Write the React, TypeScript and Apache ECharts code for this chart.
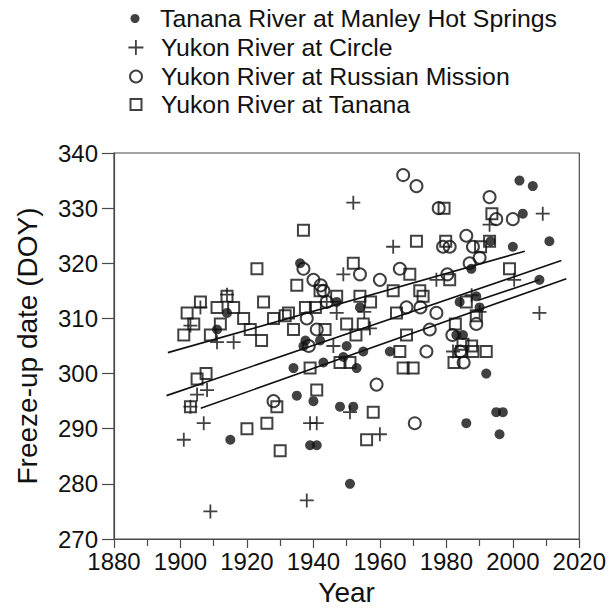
import React, { useEffect, useRef } from "react";
import * as echarts from "echarts";

// Tanana River at Manley Hot Springs: [year, freeze-up DOY]
const manley: number[][] = [
  [1911, 308], [1914, 311], [1915, 288], [1934, 301], [1935, 296], [1936, 320], [1937, 305],
  [1937.6, 306], [1939, 287], [1940, 295], [1941, 287], [1942, 306], [1943, 302], [1947, 313],
  [1948, 294], [1949, 303], [1950, 305], [1951, 280], [1952, 294], [1953, 301], [1954, 312],
  [1955, 304], [1963, 304], [1983, 307], [1985, 307], [1984, 313], [1986, 291], [1987.5, 319],
  [1989, 314], [1990, 312], [1992, 300], [1993.3, 324], [1995, 293], [1996, 289], [1997, 293],
  [2000, 323], [2002, 335], [2003, 329], [2006, 334], [2008, 317], [2011, 324],
];

// Yukon River at Circle
const circle: number[][] = [
  [1901, 288], [1903, 294], [1903, 308.7], [1905, 296.2], [1906, 312], [1907, 291], [1908, 297],
  [1909, 275], [1911, 305.7], [1914, 314.3], [1916, 305.7], [1938, 277], [1939, 291], [1941, 291],
  [1944, 313], [1946, 305], [1947, 311], [1949, 318], [1951, 293], [1952, 331], [1955.3, 311.2],
  [1957, 308.2], [1960, 289], [1964, 323], [1977, 317], [1982, 304], [1987.6, 314.2], [1990, 311.2],
  [1993, 327], [2000.4, 317], [2008, 311], [2009, 329],
];

// Yukon River at Russian Mission
const russianMission: number[][] = [
  [1928, 295], [1937, 319], [1938, 310], [1938.6, 305], [1940, 317], [1941, 308], [1942.2, 316],
  [1943, 315], [1944, 313], [1954, 318], [1959, 298], [1960, 317], [1966, 319], [1967, 336],
  [1968, 312], [1970.5, 291], [1971, 334], [1972.2, 312], [1974, 304], [1975, 308], [1977, 311],
  [1977.7, 330], [1979, 323], [1980.3, 318], [1981, 323], [1981.8, 307], [1984.2, 304],
  [1985.2, 302], [1986, 325], [1987, 320], [1988, 323], [1989, 309], [1990, 321], [1993, 332],
  [1995, 328], [2000, 328],
];

// Yukon River at Tanana
const tanana: number[][] = [
  [1901, 307], [1902, 311], [1903, 294], [1904, 309], [1906, 313], [1905, 299], [1907.7, 300],
  [1909, 307], [1911, 312], [1912, 309], [1914, 314], [1916, 312], [1919, 310], [1920, 290],
  [1921, 308], [1923, 319], [1924.4, 306], [1925, 313], [1926, 291], [1928, 310], [1929, 294],
  [1930, 286], [1931.5, 310.5], [1932.5, 311], [1934, 308], [1935, 316], [1937, 326],
  [1937.6, 312], [1939, 301], [1940.6, 312], [1941, 297], [1942, 315], [1943.5, 308], [1947, 314],
  [1948, 302], [1950, 309], [1951, 302], [1952, 320], [1952.8, 307], [1954, 314], [1955, 309],
  [1956, 288], [1957.2, 313], [1958, 293], [1964, 315], [1965, 311], [1966, 304], [1967, 301],
  [1968, 307], [1969, 318], [1970, 301], [1971, 324], [1972, 315], [1973, 314], [1979.3, 330],
  [1979.8, 324], [1981, 317], [1982.3, 302], [1982.7, 309], [1984.5, 304], [1985, 305.3],
  [1986, 313], [1987.6, 305], [1988, 304], [1989, 310.5], [1990.3, 323], [1992, 304], [1993, 324],
  [1993.7, 329], [1999, 319],
];

// Trend lines (start/end year and DOY)
const trendStartYear = [1896.2, 1895.8, 1906.1, 1989.6];
const trendEndYear = [2003.6, 2014.6, 2016.1, 2008];
const trendStartDOY = [303.8, 296, 293.7, 313.3];
const trendEndDOY = [322.2, 320.5, 317.2, 317];

const seriesNames = [
  "Tanana River at Manley Hot Springs",
  "Yukon River at Circle",
  "Yukon River at Russian Mission",
  "Yukon River at Tanana",
];

const INK = "#111111";
const AXIS = "#4a4a4a";
const FONT = "Liberation Sans, Arial, Helvetica, sans-serif";
const PLUS = "path://M0,7L14,7M7,0L7,14";

export default function App() {
  const ref = useRef<HTMLDivElement>(null);

  useEffect(() => {
    if (!ref.current) return;
    const chart = echarts.init(ref.current, undefined, { renderer: "svg" });

    const markerStyles = [
      { symbol: "circle", size: 10, itemStyle: { color: INK, borderWidth: 0 } },
      { symbol: PLUS, size: 14, itemStyle: { color: "rgba(0,0,0,0)", borderColor: INK, borderWidth: 1.8 } },
      { symbol: "circle", size: 12, itemStyle: { color: "rgba(0,0,0,0)", borderColor: INK, borderWidth: 2 } },
      { symbol: "rect", size: 11, itemStyle: { color: "rgba(0,0,0,0)", borderColor: INK, borderWidth: 2 } },
    ];
    const datasets = [manley, circle, russianMission, tanana];

    const scatterSeries = datasets.map((d, i) => ({
      type: "scatter",
      name: seriesNames[i],
      data: d,
      symbol: markerStyles[i].symbol,
      symbolSize: markerStyles[i].size,
      itemStyle: markerStyles[i].itemStyle,
      z: 3,
    }));

    const lineSeries = trendStartYear.map((s, i) => ({
      type: "line",
      name: "trend" + i,
      data: [
        [s, trendStartDOY[i]],
        [trendEndYear[i], trendEndDOY[i]],
      ],
      symbol: "none",
      lineStyle: { color: INK, width: 1.6 },
      z: 4,
      silent: true,
    }));

    const legendIcon = [
      { size: 9, pad: 15.5, top: 6 },
      { size: 15, pad: 12.5, top: 35 },
      { size: 12, pad: 14, top: 64 },
      { size: 11, pad: 14.5, top: 92 },
    ];

    const legends = seriesNames.map((name, i) => {
      const sz = legendIcon[i].size;
      return {
        orient: "vertical",
        left: 135 - sz / 2,
        top: legendIcon[i].top,
        padding: 0,
        itemWidth: sz,
        itemHeight: sz,
        selectedMode: false,
        data: [
          {
            name,
            icon: markerStyles[i].symbol,
            itemStyle: markerStyles[i].itemStyle,
          },
        ],
        textStyle: {
          fontSize: 24.8,
          color: INK,
          fontFamily: FONT,
          padding: [0, 0, 0, legendIcon[i].pad],
        },
      };
    });

    chart.setOption({
      animation: false,
      backgroundColor: "#ffffff",
      legend: legends,
      grid: {
        left: 114,
        right: 19,
        top: 153,
        bottom: 66,
        show: true,
        borderColor: AXIS,
        borderWidth: 1.2,
        containLabel: false,
      },
      xAxis: {
        type: "value",
        min: 1880,
        max: 2020,
        interval: 20,
        name: "Year",
        nameLocation: "middle",
        nameGap: 39,
        nameTextStyle: { fontSize: 28, color: INK, fontFamily: FONT },
        axisLine: { show: true, lineStyle: { color: AXIS, width: 1.2 } },
        axisTick: { show: true, inside: false, length: 9, lineStyle: { color: AXIS, width: 1.2 } },
        minorTick: { show: true, splitNumber: 2, length: 7, lineStyle: { color: AXIS, width: 1.2 } },
        splitLine: { show: false },
        minorSplitLine: { show: false },
        axisLabel: {
          fontSize: 24,
          color: INK,
          fontFamily: FONT,
          margin: 10,
          formatter: (v: number) => String(v),
        },
      },
      yAxis: {
        type: "value",
        min: 270,
        max: 340,
        interval: 10,
        name: "Freeze-up date (DOY)",
        nameLocation: "middle",
        nameGap: 73,
        nameTextStyle: { fontSize: 28, color: INK, fontFamily: FONT },
        axisLine: { show: true, lineStyle: { color: AXIS, width: 1.2 } },
        axisTick: { show: true, inside: false, length: 12, lineStyle: { color: AXIS, width: 1.2 } },
        splitLine: { show: false },
        axisLabel: {
          fontSize: 24,
          color: INK,
          fontFamily: FONT,
          margin: 16,
          formatter: (v: number) => String(v),
        },
      },
      series: [...lineSeries, ...scatterSeries],
    });

    return () => chart.dispose();
  }, []);

  return <div ref={ref} style={{ width: 609, height: 611, position: "absolute", left: 0, top: 0 }} />;
}
